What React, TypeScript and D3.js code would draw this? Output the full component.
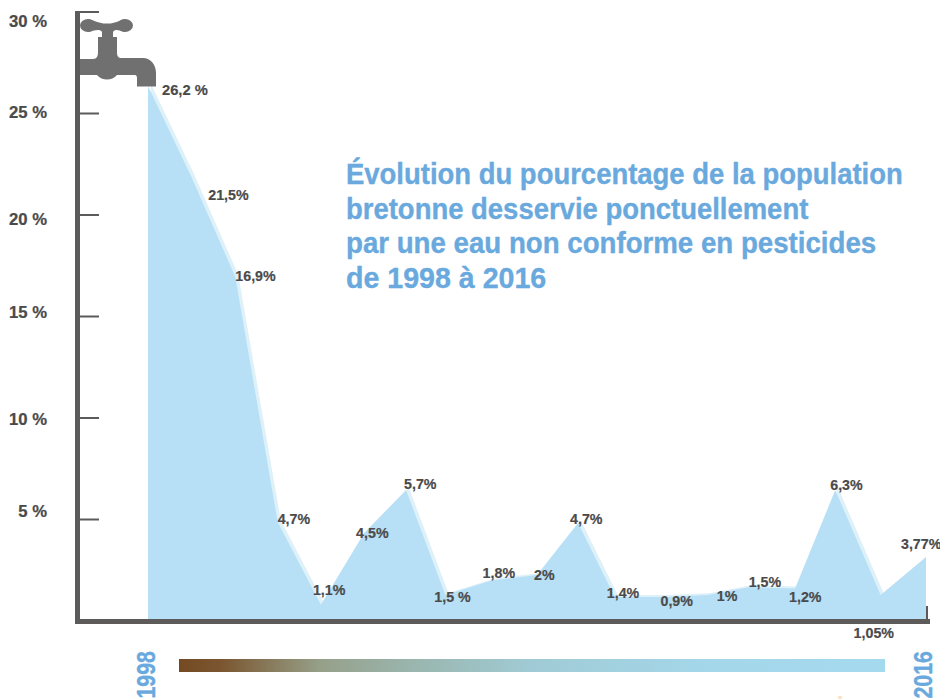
import React from "react";
import * as d3 from "d3";

// Position of each yearly point along the year axis
const years = [1998, 1999, 2000, 2001, 2002, 2003, 2004, 2005, 2006, 2007, 2008, 2009, 2010, 2011, 2012, 2013, 2014, 2015, 2016];
const yearPositions = [1998, 1999, 2000.02, 2001, 2002, 2003, 2003.97, 2004.88, 2005.95, 2007, 2007.95, 2008.8, 2009.95, 2010.95, 2011.92, 2012.97, 2013.9, 2014.95, 2016];
const plotted = [26.35, 21.9, 16.95, 4.88, 0.8, 4.33, 6.45, 1.28, 2.0, 2.27, 4.83, 1.18, 1.18, 1.28, 1.67, 1.6, 6.45, 1.28, 3.15];
const labels = ["26,2 %", "21,5%", "16,9%", "4,7%", "1,1%", "4,5%", "5,7%", "1,5 %", "1,8%", "2%", "4,7%", "1,4%", "0,9%", "1%", "1,5%", "1,2%", "6,3%", "1,05%", "3,77%"];
const labelDx = [14, 17, 0, 0, -8, -8, -2, -11, -9, -3, -8, -8, -4, 9, -1, -6, -5, -27, -25];
const labelDy = [9, 24, 4, 2, -10, 5, -1, 7, -2, 5, 1, 1, 9, 6, 0, 13, 0, 43, -8];
const labelSizes = [15.5, 15, 15, 15, 15, 15, 15, 15, 15, 15, 15, 15, 15, 15, 15, 15, 15, 15, 15];
const yTicks = [30, 25, 20, 15, 10, 5];
const yTickLabelBaselines = [27, 118, 225, 318, 425, 517];
const titleLines = [
  "Évolution du pourcentage de la population",
  "bretonne desservie ponctuellement",
  "par une eau non conforme en pesticides",
  "de 1998 à 2016",
];
const titleScales = [0.947, 0.947, 0.954, 0.986];
const gradientStops: [number, string][] = [
  [0, "#744a22"],
  [0.06, "#7a5630"],
  [0.2, "#96a089"],
  [0.32, "#99b4ab"],
  [0.5, "#a0cbd5"],
  [0.75, "#a4d7ea"],
  [1, "#a5d9ed"],
];

const W = 940;
const H = 699;
const x = d3.scaleLinear().domain([1998, 2016]).range([148, 926]);
const y = d3.scaleLinear().domain([0, 30]).range([621, 12]);
const FONT = "'Liberation Sans', Arial, sans-serif";
const BLUE = "#69a9dd";
const INK = "#4b4a4a";
const AXIS = "#5c5b5a";
const TAP = "#707070";

const area = d3
  .area<number>()
  .x((_, i) => x(yearPositions[i]))
  .y0(y(0))
  .y1((d) => y(d));

export default function App() {
  const path = area(plotted) as string;
  return (
    <svg
      width={W}
      height={H}
      viewBox={`0 0 ${W} ${H}`}
      style={{ position: "absolute", left: 0, top: 0, display: "block", background: "#fff" }}
    >
      <defs>
        <linearGradient id="bar">
          {gradientStops.map(([o, c]) => (
            <stop key={o} offset={o} stopColor={c} />
          ))}
        </linearGradient>
        <clipPath id="plot">
          <rect x={x(1998)} y={0} width={x(2016) - x(1998)} height={y(0)} />
        </clipPath>
      </defs>

      <g clipPath="url(#plot)">
        <path d={path} fill="#def0f8" transform="translate(3,-2)" />
        <path d={path} fill="#b7e0f6" />
      </g>

      {/* axes */}
      <rect x={75} y={11} width={5} height={613} fill={AXIS} />
      <rect x={75} y={619} width={855} height={5} fill={AXIS} />
      <rect x={926} y={606} width={2} height={14} fill={AXIS} />
      {yTicks.map((t, i) => (
        <g key={t}>
          <rect x={78} y={y(t) - 1} width={21} height={2} fill={AXIS} />
          <text
            transform={`translate(47,${yTickLabelBaselines[i]}) scale(0.98,1)`}
            textAnchor="end"
            fontFamily={FONT}
            fontWeight={700}
            fontSize={17}
            fill={INK}
            stroke={INK}
            strokeWidth={0.25}
          >
            {`${t} %`}
          </text>
        </g>
      ))}

      {/* tap */}
      <g fill={TAP}>
        <ellipse cx={88} cy={25.5} rx={8} ry={6.5} />
        <ellipse cx={125} cy={25.5} rx={8} ry={6.5} />
        <path d="M88 19 C96 21 100 24 107 23.5 C114 24 118 21 125 19 V32 C118 30 115 29 113 32 V37 H117 V52 C117 56 118 58 122 58 H143 C151 58 156 65 156 73 V86.5 H137 V78 C137 76 136 75 135 75 H117 C112 81 102 81 97 75 H80 V59 H93 C97 59 98 56 98 52 V37 H102 V32 C100 29 96 30 88 32 Z" />
      </g>

      {/* point labels */}
      {labels.map((l, i) => (
        <text
          key={i}
          transform={`translate(${x(yearPositions[i]) + labelDx[i]},${y(plotted[i]) + labelDy[i]}) scale(0.95,1)`}
          fontFamily={FONT}
          fontWeight={700}
          fontSize={labelSizes[i]}
          fill={INK}
          stroke={INK}
          strokeWidth={0.2}
        >
          {l}
        </text>
      ))}

      {/* title */}
      {titleLines.map((t, i) => (
        <text
          key={t}
          transform={`translate(346,${184 + i * 34.5}) scale(${titleScales[i]},1)`}
          fontFamily={FONT}
          fontWeight={700}
          fontSize={29}
          fill={BLUE}
          stroke={BLUE}
          strokeWidth={0.35}
        >
          {t}
        </text>
      ))}

      {/* time bar */}
      <rect x={179} y={659} width={706} height={13} fill="url(#bar)" />
      <text
        transform={`translate(155,698.5) rotate(-90) scale(0.82,1)`}
        fontFamily={FONT}
        fontWeight={700}
        fontSize={26}
        fill={BLUE}
        stroke={BLUE}
        strokeWidth={0.4}
      >
        {years[0]}
      </text>
      <text
        transform={`translate(932,698.5) rotate(-90) scale(0.82,1)`}
        fontFamily={FONT}
        fontWeight={700}
        fontSize={26}
        fill={BLUE}
        stroke={BLUE}
        strokeWidth={0.4}
      >
        {years[years.length - 1]}
      </text>
      <rect x={838} y={696} width={4} height={3} fill="#fbe3c8" />
    </svg>
  );
}
